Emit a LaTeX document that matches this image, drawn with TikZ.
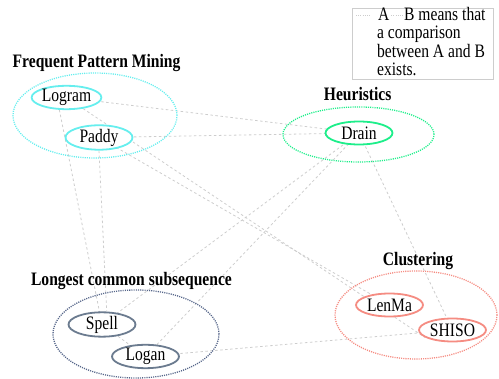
\documentclass[tikz,border=0pt]{standalone}
\usepackage{fontspec}
\setmainfont{Liberation Serif}[FakeStretch=0.82]
\usetikzlibrary{shapes.geometric,backgrounds}
\definecolor{fpmc}{HTML}{66EEEE}
\definecolor{heurc}{HTML}{1DEE8A}
\definecolor{lcsc}{HTML}{6B7B8F}
\definecolor{lcsd}{HTML}{56668A}
\definecolor{cluc}{HTML}{F58C82}
\definecolor{edgec}{HTML}{CDCDCD}
\begin{document}
\begin{tikzpicture}[x=1pt,y=-1pt,
  font=\fontsize{19}{18.6}\selectfont,
  grp/.style={ellipse, draw, line width=1.3pt, dash pattern=on 1.1pt off 1.1pt, inner sep=0pt},
  algo/.style={ellipse, draw, line width=1.8pt, fill=white, minimum width=67pt, minimum height=23pt, inner sep=0pt},
  glabel/.style={anchor=base, inner sep=0pt, font=\fontsize{19}{18.6}\selectfont\bfseries},
  ltext/.style={anchor=base west, inner sep=0pt},
  cmp/.style={draw=edgec, line width=0.8pt, dash pattern=on 2.5pt off 2.5pt},
  keyline/.style={draw=edgec, line width=1pt, dash pattern=on 1pt off 1.2pt},
]
\useasboundingbox (0,0) rectangle (499,379);

% legend
\node[draw=edgec, line width=0.8pt, minimum width=141pt, minimum height=71pt, inner sep=0pt] (legbox) at (422.5,43.5) {};
\coordinate (k1) at (356,15.5);
\coordinate (k2) at (371,15.5);
\node[ltext] (lA) at (378,20.5) {A};
\node[ltext] (lB) at (404,20.5) {B means that};
\node[ltext] (l2) at (377,39) {a comparison};
\node[ltext] (l3) at (377,57.5) {between A and B};
\node[ltext] (l4) at (377,75.5) {exists.};
\draw[keyline] (k1) -- (k2);
\draw[keyline] ([xshift=1.5pt]lA.east |- k1) -- ([xshift=-1.5pt]lB.west |- k1);

% groups
\node[grp, draw=fpmc, minimum width=164pt, minimum height=85pt] (gfpm) at (95,115.5) {};
\node[grp, draw=heurc, minimum width=151pt, minimum height=55pt] (gheur) at (358.5,134.5) {};
\node[grp, draw=lcsd, minimum width=166pt, minimum height=88pt] (glcs) at (136,334) {};
\node[grp, draw=cluc, minimum width=162pt, minimum height=88pt] (gclu) at (416,315) {};

\node[glabel] (tfpm) at (96.5,67.3) {Frequent Pattern Mining};
\node[glabel] (theur) at (357.7,100.7) {Heuristics};
\node[glabel] (tlcs) at (131.5,286) {Longest common subsequence};
\node[glabel] (tclu) at (418,266) {Clustering};

% algorithms
\node[algo, draw=fpmc] (Logram) at (66.5,97.5) {Logram};
\node[algo, draw=fpmc] (Paddy) at (99,137.5) {Paddy};
\node[algo, draw=heurc] (Drain) at (359,133) {Drain};
\node[algo, draw=lcsc] (Spell) at (102,324.5) {Spell};
\node[algo, draw=lcsc] (Logan) at (145.5,356.5) {Logan};
\node[algo, draw=cluc] (LenMa) at (389.5,305) {LenMa};
\node[algo, draw=cluc] (SHISO) at (452.5,330) {SHISO};

% comparisons
\begin{scope}[on background layer]
\draw[cmp] (Logram.center) -- (Drain.center);
\draw[cmp] (Paddy.center) -- (Drain.center);
\draw[cmp] (Logram.center) -- (SHISO.195);
\draw[cmp] (Paddy.center) -- (LenMa.center);
\draw[cmp] (Logram.240) -- (Spell.center);
\draw[cmp] (Paddy.south) -- (Spell.70);
\draw[cmp] (Spell.center) -- (Logan.center);
\draw[cmp] (Drain.center) -- (Spell.center);
\draw[cmp] (Drain.center) -- (Logan.center);
\draw[cmp] (Drain.center) -- (SHISO.center);
\draw[cmp] (Logan.center) -- (SHISO.center);
\end{scope}
\end{tikzpicture}
\end{document}
